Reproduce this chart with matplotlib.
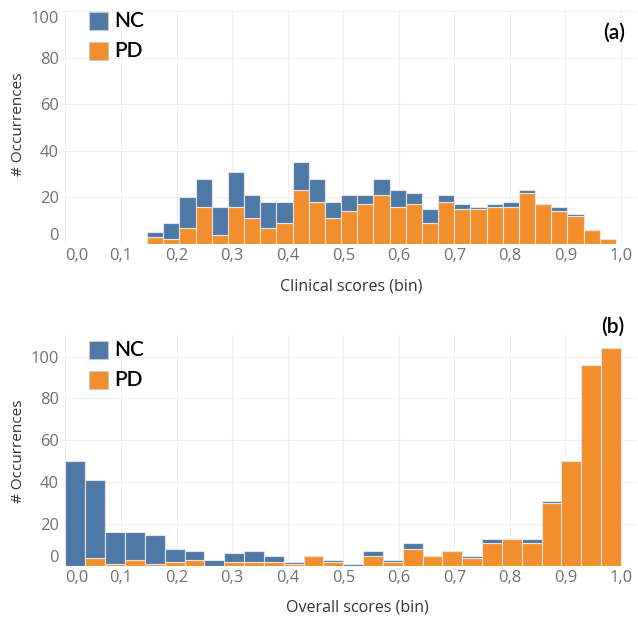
import matplotlib
matplotlib.use("Agg")
import matplotlib.pyplot as plt
import numpy as np
from matplotlib.patches import Rectangle

NC_COLOR = "#4e79a7"
PD_COLOR = "#f28e2b"
EDGE = "#e4e4e4"

# (a) clinical scores, stacked counts per bin (PD at the bottom, NC on top)
clinical_pd = [3, 2, 7, 16, 4, 16, 11, 7, 9, 23, 18, 11, 14, 17, 21, 16, 17,
               9, 18, 15, 15, 16, 16, 22, 17, 14, 12, 6, 2]
clinical_nc = [2, 7, 13, 12, 12, 15, 10, 11, 9, 12, 10, 7, 7, 4, 7, 7, 5,
               6, 3, 2, 1, 1, 2, 1, 0, 2, 1, 0, 0]
clinical_bin_start = 0.147
clinical_bin_width = 0.0291

# (b) overall scores
overall_pd = [0, 4, 1, 3, 1, 2, 3, 0, 2, 2, 2, 1, 5, 2, 0, 5, 2, 8, 5, 7, 4,
              11, 13, 11, 30, 50, 96, 104]
overall_nc = [50, 37, 15, 13, 14, 6, 4, 3, 4, 5, 3, 1, 0, 1, 1, 2, 1, 3, 0, 0,
              1, 2, 0, 2, 1, 0, 0, 0]
overall_bin_start = 0.0
overall_bin_width = 1 / 28

x_ticks = [0.0, 0.1, 0.2, 0.3, 0.4, 0.5, 0.6, 0.7, 0.8, 0.9, 1.0]
x_tick_labels = ["0,0", "0,1", "0,2", "0,3", "0,4", "0,5", "0,6", "0,7",
                 "0,8", "0,9", "1,0"]
y_ticks = [0, 20, 40, 60, 80, 100]

W, H = 638, 622
TICK_FONT = "Open Sans"
LEG_FONT = "Lato"


def fx(x):
    return x / W


def fy(y):
    return 1 - y / H


def draw_panel(ax, pd, nc, start, width, ymax, clip_top):
    left = start + width * np.arange(len(pd))
    ax.bar(left, pd, width, align="edge", color=PD_COLOR, edgecolor=EDGE,
           linewidth=0.8, zorder=2)
    ax.bar(left, nc, width, bottom=pd, align="edge", color=NC_COLOR,
           edgecolor=EDGE, linewidth=0.8, zorder=2)
    ax.set_xlim(-0.0045, 1.027)
    ax.set_ylim(0, ymax)
    ax.set_xticks(x_ticks)
    ax.set_xticklabels(x_tick_labels)
    ax.set_yticks(y_ticks)
    ax.set_yticklabels([str(v) for v in y_ticks])
    for s in ax.spines.values():
        s.set_visible(False)
    ax.grid(color="#efefef", linewidth=0.8, zorder=0)
    ax.set_axisbelow(True)
    ax.tick_params(length=0, labelsize=11.9, labelcolor="#707070", pad=3)
    for lab in ax.get_xticklabels() + ax.get_yticklabels():
        lab.set_family(TICK_FONT)
    ax.get_xticklabels()[0].set_ha("left")
    ax.get_yticklabels()[0].set_va("bottom")
    if clip_top:
        ax.get_yticklabels()[-1].set_va("top")


def legend(fig, y_nc, y_pd):
    for y, col, txt in [(y_nc, NC_COLOR, "NC"), (y_pd, PD_COLOR, "PD")]:
        fig.add_artist(Rectangle((fx(89), fy(y + 9)), 19 / W, 18 / H,
                                 transform=fig.transFigure, facecolor=col,
                                 edgecolor="#c8c8c8", linewidth=0.8))
        fig.text(fx(114), fy(y), txt, ha="left", va="center", fontsize=15,
                 family=LEG_FONT, weight="semibold", color="black")


fig = plt.figure(figsize=(6.38, 6.22), dpi=100)

ax1 = fig.add_axes([fx(63), fy(244), (636 - 63) / W, 233 / H])
draw_panel(ax1, clinical_pd, clinical_nc, clinical_bin_start,
           clinical_bin_width, 100, True)

ax2 = fig.add_axes([fx(63), fy(566), (636 - 63) / W, 231 / H])
draw_panel(ax2, overall_pd, overall_nc, overall_bin_start,
           overall_bin_width, 110.3, False)

fig.text(fx(351), fy(286), "Clinical scores (bin)", ha="center", va="center",
         fontsize=11.5, family=TICK_FONT, color="#333333")
fig.text(fx(357), fy(608), "Overall scores (bin)", ha="center", va="center",
         fontsize=11.5, family=TICK_FONT, color="#333333")
fig.text(fx(19), fy(124), "# Occurrences", ha="center", va="center",
         rotation=90, fontsize=11, family=TICK_FONT, color="#333333")
fig.text(fx(19), fy(451), "# Occurrences", ha="center", va="center",
         rotation=90, fontsize=11, family=TICK_FONT, color="#333333")

legend(fig, 21, 51)
legend(fig, 350, 380)

fig.text(fx(614), fy(33), "(a)", ha="center", va="center", fontsize=15,
         family=LEG_FONT, weight="semibold", color="black")
fig.text(fx(613), fy(327), "(b)", ha="center", va="center", fontsize=15,
         family=LEG_FONT, weight="semibold", color="black")

fig.savefig("out.png", dpi=100)
